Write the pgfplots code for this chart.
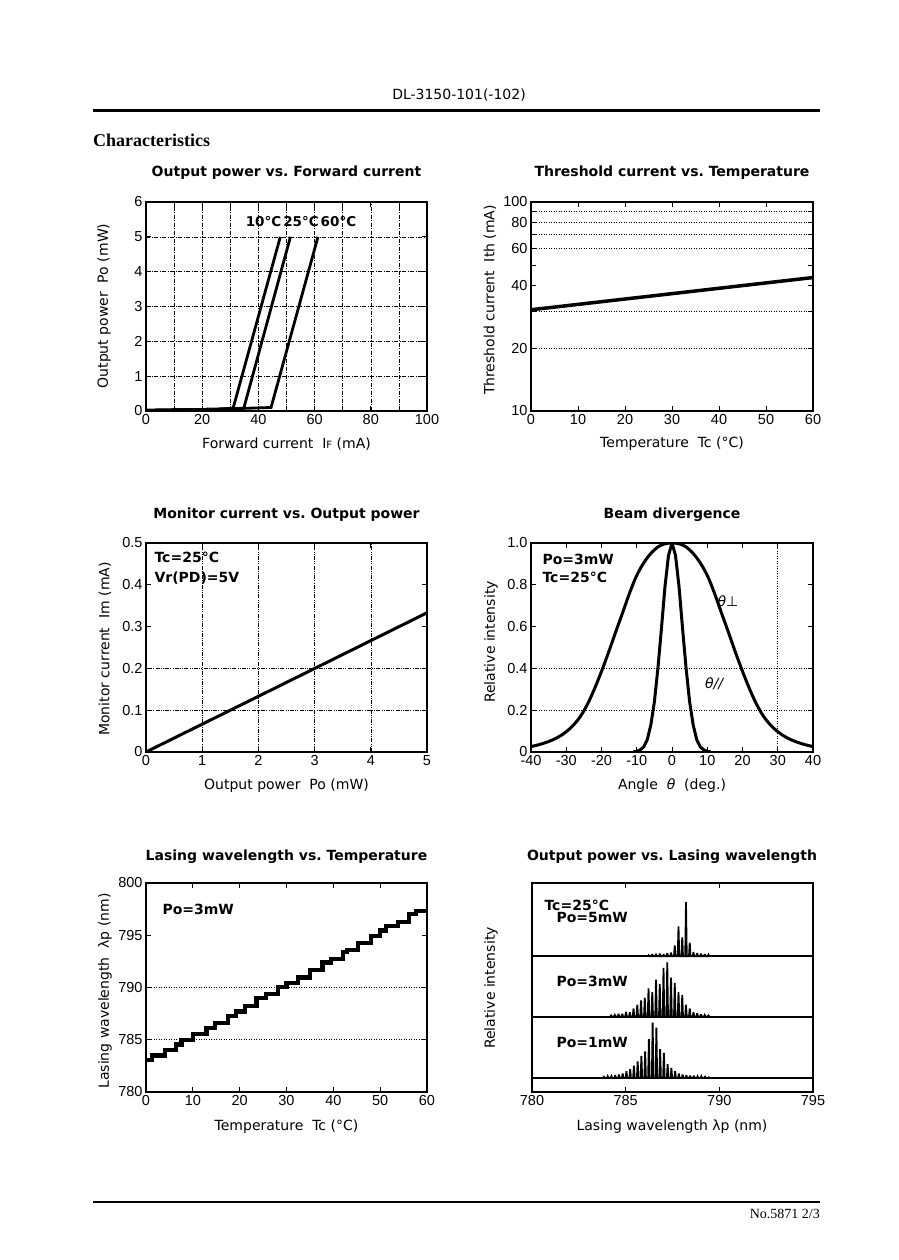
\documentclass[border=0pt]{standalone}
\usepackage{fontspec}
\setmainfont{DejaVu Sans}
\newfontfamily\serifb{Liberation Serif}
\newfontfamily\tickf{Liberation Sans}
\usepackage{pgfplots}
\pgfplotsset{compat=1.18}
\frenchspacing
\newcommand\fs[1]{\fontsize{#1}{#1}\selectfont}
\newcommand\tfont{\tickf\fontsize{14.5}{14.5}\selectfont}
\pgfplotsset{
 ds/.style={scale only axis, width=281pt, height=209pt, anchor=south west,
   axis line style={line width=1.7pt},
   every tick/.style={black, line width=0.8pt},
   tick align=inside, major tick length=5pt, minor tick length=5pt,
   tick label style={font=\tfont},
   xticklabel style={font=\tfont}, yticklabel style={font=\tfont},
   /pgf/number format/assume math mode=true},
 dashdot/.style={line width=0.6pt, black, dash pattern=on 4pt off 1.5pt on 1pt off 1.5pt},
 dashdotdot/.style={line width=0.6pt, black, dash pattern=on 4pt off 1.2pt on 1pt off 1.2pt on 1pt off 1.2pt},
 dotgrid/.style={line width=0.6pt, black, dash pattern=on 1.3pt off 1.2pt},
 spike/.style={black, line width=1.8pt, line join=miter, miter limit=3},
}
\begin{document}
\begin{tikzpicture}[x=1pt,y=1pt]
\fill[white] (0,0) rectangle (898,1260);
\path[use as bounding box] (0,0) rectangle (898,1260);
% header
\node[font=\fs{14}] at (459,1165) {DL-3150-101(-102)};
\draw[line width=3pt] (93,1149) -- (820,1149);
\node[font=\serifb\fs{18}\bfseries, anchor=west, inner sep=0] at (93,1120) {Characteristics};
\draw[line width=2pt] (93,58) -- (820,58);
\node[font=\serifb\fs{14}, anchor=east, inner sep=0] at (820,46) {No.5871 2/3};

% ---------- Plot 1 ----------
\begin{axis}[ds, at={(146pt,849pt)}, xmin=0,xmax=100,ymin=0,ymax=6,
 xtick={0,20,...,100}, minor xtick={10,30,...,90}, ytick={0,...,6},
 xmajorgrids, xminorgrids, ymajorgrids, grid style={dashdot}]
\addplot[black, line width=2.8pt] coordinates {(0,0.02)(25,0.05)(31,0.08)(47.8,5)};
\addplot[black, line width=2.8pt] coordinates {(0,0.02)(25,0.05)(34.8,0.08)(51.4,5)};
\addplot[black, line width=2.8pt] coordinates {(0,0.02)(25,0.05)(44.5,0.1)(61.2,5)};
\end{axis}
\node[font=\fs{13.5}\bfseries] at (301,1038) {10°C\hspace{2pt}25°C\hspace{2pt}60°C};
\node[font=\fs{14}\bfseries] at (286.5,1087) {Output power vs. Forward current};
\node[font=\fs{14}] at (286.5,816) {Forward current\ \ I{\fs{10}F} (mA)};
\node[font=\fs{14}, rotate=90] at (104,954) {Output power\ \ Po (mW)};

% ---------- Plot 2 (log10 of current on a linear axis) ----------
\begin{axis}[ds, at={(531pt,849pt)}, width=282pt, xmin=0,xmax=60, ymin=1,ymax=2,
 xtick={0,10,...,60},
 ytick={1.30103,1.47712,1.77815,1.84510,1.90309,1.95424}, yticklabels={20,,60,,80,},
 ymajorgrids, grid style={dotgrid},
 extra y ticks={1,1.60206,1.69897,2}, extra y tick labels={10,40,,100},
 extra y tick style={grid=none}]
\addplot[black, line width=3.5pt] coordinates {(0,1.4843)(60,1.6385)};
\end{axis}
\node[font=\fs{14}\bfseries] at (672,1087) {Threshold current vs. Temperature};
\node[font=\fs{14}] at (672,816) {Temperature\ \ Tc (°C)};
\node[font=\fs{14}, rotate=90] at (490,960) {Threshold current\ \ Ith (mA)};

% ---------- Plot 3 ----------
\begin{axis}[ds, at={(146pt,508pt)}, xmin=0,xmax=5,ymin=0,ymax=0.5,
 xtick={0,...,5}, ytick={0.1,0.2},
 xmajorgrids, ymajorgrids, grid style={dashdotdot},
 extra y ticks={0,0.3,0.4,0.5}, extra y tick style={grid=none},
 yticklabel style={/pgf/number format/fixed}]
\addplot[black, line width=3pt] coordinates {(0,0)(5,0.333)};
\end{axis}
\node[font=\fs{14}\bfseries, anchor=west] at (151,703) {Tc=25°C};
\node[font=\fs{14}\bfseries, anchor=west] at (151,682) {Vr(PD)=5V};
\node[font=\fs{14}\bfseries] at (286.5,745) {Monitor current vs. Output power};
\node[font=\fs{14}] at (286.5,474) {Output power\ \ Po (mW)};
\node[font=\fs{14}, rotate=90] at (105,611) {Monitor current\ \ Im (mA)};

% ---------- Plot 4 ----------
\begin{axis}[ds, at={(531pt,508pt)}, width=282pt, xmin=-40,xmax=40,ymin=0,ymax=1,
 xtick={30}, ytick={0.2,0.4}, yticklabels={0.2,0.4},
 xmajorgrids, ymajorgrids, grid style={dotgrid},
 extra x ticks={-40,-30,-20,-10,0,10,20,40}, extra x tick style={grid=none},
 extra y ticks={0,0.6,0.8,1}, extra y tick labels={0,0.6,0.8,1.0}, extra y tick style={grid=none}]
\addplot[black, line width=3pt, smooth, tension=0.6] coordinates {
(-40,0.026)(-38,0.034)(-36,0.044)(-34,0.057)(-32,0.074)(-30,0.097)(-28,0.128)(-26,0.170)
(-24,0.228)(-22,0.302)(-20,0.386)(-18,0.477)(-16,0.573)(-14,0.667)(-12,0.762)(-10,0.845)
(-8,0.905)(-6,0.950)(-4,0.981)(-2,0.996)(0,1.0)(2,0.996)(4,0.981)(6,0.950)(8,0.905)
(10,0.845)(12,0.762)(14,0.667)(16,0.573)(18,0.477)(20,0.386)(22,0.302)(24,0.228)(26,0.170)
(28,0.128)(30,0.097)(32,0.074)(34,0.057)(36,0.044)(38,0.034)(40,0.026)};
\addplot[black, line width=3pt] coordinates {
(-11,0)(-10,0.003)(-9,0.01)(-8,0.025)(-7,0.06)(-6,0.13)(-5,0.24)(-4,0.40)(-3,0.59)
(-2,0.79)(-1,0.94)(0,1.0)(1,0.94)(2,0.79)(3,0.59)(4,0.40)(5,0.24)(6,0.13)(7,0.06)
(8,0.025)(9,0.01)(10,0.003)(11,0)};
\end{axis}
\node[font=\fs{14}\bfseries, anchor=west] at (539,701) {Po=3mW};
\node[font=\fs{14}\bfseries, anchor=west] at (539,683) {Tc=25°C};
\node[font=\fs{14}] at (728,659) {{\itshape θ}⊥};
\node[font=\fs{14}\itshape] at (714,576) {θ//};
\node[font=\fs{14}\bfseries] at (672,745) {Beam divergence};
\node[font=\fs{14}] at (672,474) {Angle\ \ {\itshape θ}\ \ (deg.)};
\node[font=\fs{14}, rotate=90] at (491,618) {Relative intensity};

% ---------- Plot 5 ----------
\begin{axis}[ds, at={(146pt,168pt)}, xmin=0,xmax=60,ymin=780,ymax=800,
 xtick=\empty, minor xtick={40,50}, xminorgrids, minor grid style={dashdot},
 ytick={785,790}, ymajorgrids, major grid style={dotgrid},
 extra x ticks={0,10,20,30,40,50,60}, extra x tick style={grid=none},
 extra y ticks={780,795,800}, extra y tick style={grid=none}]
\addplot[black, line width=4.2pt, const plot, line join=miter] coordinates {
(0,783.07)(1.2,783.5)(4.05,784.0)(6.4,784.55)(7.6,785.0)(10.1,785.55)(12.9,786.15)
(14.7,786.6)(17.55,787.3)(19.2,787.7)(21.1,788.25)(23.6,789.0)(25.7,789.4)(28.2,790.05)
(30.0,790.45)(32.5,790.95)(35.0,791.7)(37.7,792.4)(39.5,792.7)(42.1,793.4)(43.0,793.6)
(45.3,794.25)(48.1,794.95)(50.0,795.45)(51.3,795.85)(53.8,796.3)(56.1,797.0)(57.7,797.35)(60,797.35)};
\end{axis}
\node[font=\fs{14}\bfseries, anchor=west] at (159,351) {Po=3mW};
\node[font=\fs{14}\bfseries] at (286.5,403) {Lasing wavelength vs. Temperature};
\node[font=\fs{14}] at (286.5,133) {Temperature\ \ Tc (°C)};
\node[font=\fs{14}, rotate=90] at (105,269) {Lasing wavelength\ \ λp (nm)};

% ---------- Plot 6 ----------
\begin{axis}[ds, at={(532pt,168pt)}, xmin=780,xmax=795,ymin=0,ymax=208,
 xtick={780,785,790,795}, ytick=\empty,
 xticklabel style={/pgf/number format/1000 sep={}}]
\addplot[black, line width=2pt] coordinates {(780,135)(795,135)};
\addplot[black, line width=2pt] coordinates {(780,75)(795,75)};
\addplot[black, line width=2pt] coordinates {(780,14)(795,14)};
% Po=5mW
\addplot[spike] coordinates {
(786.18,135)(786.22,136.1)(786.26,135)(786.38,135)(786.42,137.2)(786.46,135)
(786.58,135)(786.62,136.6)(786.66,135)(786.78,135)(786.82,137.7)(786.86,135)
(786.98,135)(787.02,137.2)(787.06,135)(787.18,135)(787.22,138.2)(787.26,135)
(787.38,135)(787.42,138.8)(787.46,135)(787.58,135)(787.62,145.8)(787.66,135)
(787.78,135)(787.82,164.7)(787.86,135)(787.98,135)(788.02,153.9)(788.06,135)
(788.18,135)(788.22,189)(788.26,135)(788.38,135)(788.42,148.5)(788.46,135)
(788.58,135)(788.62,139.3)(788.66,135)(788.78,135)(788.82,138.2)(788.86,135)
(788.98,135)(789.02,137.7)(789.06,135)(789.18,135)(789.22,137.2)(789.26,135)
(789.38,135)(789.42,136.6)(789.46,135)};
% Po=3mW
\addplot[spike] coordinates {
(784.18,75)(784.22,76.1)(784.26,75)(784.38,75)(784.42,76.6)(784.46,75)
(784.58,75)(784.62,77.7)(784.66,75)(784.78,75)(784.82,77.7)(784.86,75)
(784.98,75)(785.02,79.9)(785.06,75)(785.18,75)(785.22,79.3)(785.26,75)
(785.38,75)(785.42,83.1)(785.46,75)(785.58,75)(785.62,86.9)(785.66,75)
(785.78,75)(785.82,91.2)(785.86,75)(785.98,75)(786.02,93.9)(786.06,75)
(786.18,75)(786.22,103.1)(786.26,75)(786.38,75)(786.42,99.3)(786.46,75)
(786.58,75)(786.62,111.7)(786.66,75)(786.78,75)(786.82,107.4)(786.86,75)
(786.98,75)(787.02,123.6)(787.06,75)(787.18,75)(787.22,129)(787.26,75)
(787.38,75)(787.42,113.9)(787.46,75)(787.58,75)(787.62,108.5)(787.66,75)
(787.78,75)(787.82,99.3)(787.86,75)(787.98,75)(788.02,96.6)(788.06,75)
(788.18,75)(788.22,86.9)(788.26,75)(788.38,75)(788.42,83.1)(788.46,75)
(788.58,75)(788.62,79.3)(788.66,75)(788.78,75)(788.82,78.2)(788.86,75)
(788.98,75)(789.02,77.2)(789.06,75)(789.18,75)(789.22,76.6)(789.26,75)
(789.38,75)(789.42,76.1)(789.46,75)};
% Po=1mW
\addplot[spike] coordinates {
(783.80,14)(783.84,15.1)(783.88,14)(784.00,14)(784.04,15.7)(784.08,14)
(784.20,14)(784.24,15.7)(784.28,14)(784.40,14)(784.44,16.8)(784.48,14)
(784.60,14)(784.64,17.3)(784.68,14)(784.80,14)(784.84,18.4)(784.88,14)
(785.00,14)(785.04,20.6)(785.08,14)(785.20,14)(785.24,22.8)(785.28,14)
(785.40,14)(785.44,26.1)(785.48,14)(785.60,14)(785.64,30.5)(785.68,14)
(785.80,14)(785.84,36.0)(785.88,14)(786.00,14)(786.04,40.4)(786.08,14)
(786.20,14)(786.24,52.5)(786.28,14)(786.40,14)(786.44,69)(786.48,14)
(786.60,14)(786.64,64.1)(786.68,14)(786.80,14)(786.84,42.6)(786.88,14)
(787.00,14)(787.04,38.8)(787.08,14)(787.20,14)(787.24,27.8)(787.28,14)
(787.40,14)(787.44,23.9)(787.48,14)(787.60,14)(787.64,20.6)(787.68,14)
(787.80,14)(787.84,18.4)(787.88,14)(788.00,14)(788.04,17.3)(788.08,14)
(788.20,14)(788.24,16.8)(788.28,14)(788.40,14)(788.44,16.2)(788.48,14)
(788.60,14)(788.64,16.2)(788.68,14)(788.80,14)(788.84,15.7)(788.88,14)
(789.00,14)(789.04,15.7)(789.08,14)(789.20,14)(789.24,15.1)(789.28,14)
(789.40,14)(789.44,14.6)(789.48,14)};
\end{axis}
\node[font=\fs{14}\bfseries, anchor=west] at (541,355) {Tc=25°C};
\node[font=\fs{14}\bfseries, anchor=west] at (553,342) {Po=5mW};
\node[font=\fs{14}\bfseries, anchor=west] at (553,279) {Po=3mW};
\node[font=\fs{14}\bfseries, anchor=west] at (553,218) {Po=1mW};
\node[font=\fs{14}\bfseries] at (672,403) {Output power vs. Lasing wavelength};
\node[font=\fs{14}] at (672,133) {Lasing wavelength λp (nm)};
\node[font=\fs{14}, rotate=90] at (491,272) {Relative intensity};
\end{tikzpicture}
\end{document}
